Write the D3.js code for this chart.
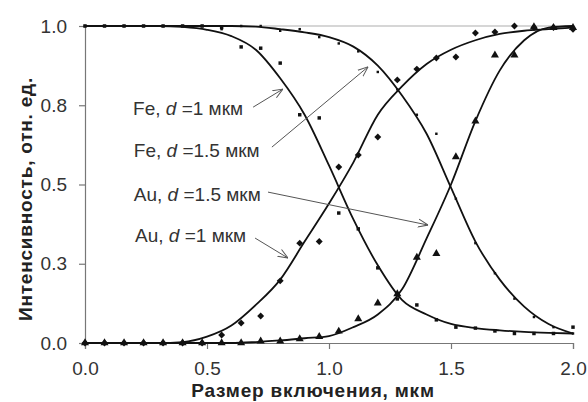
<!DOCTYPE html>
<html>
<head>
<meta charset="utf-8">
<script src="https://cdn.jsdelivr.net/npm/d3@7"></script>
<style>
	body { margin: 0; background: #fff; }
	text { font-family: "Liberation Sans", Arial, sans-serif; }
</style>
</head>
<body>
<svg id="chart" width="588" height="402"></svg>
<script>
// measured points, x step 0.08 um
let pointX = [0, 0.08, 0.16, 0.24, 0.32, 0.40, 0.48, 0.56, 0.64, 0.72, 0.80, 0.88, 0.96,
	1.04, 1.12, 1.20, 1.28, 1.36, 1.44, 1.52, 1.60, 1.68, 1.76, 1.84, 1.92, 2.00];
let feD1Points = [1, 1, 1, 1, 1, 1, 1, 0.995, 0.934, 0.93, 0.883, 0.72, 0.71,
	0.41, 0.36, 0.237, 0.139, 0.12, 0.073, 0.05, 0.047, 0.038, 0.03, 0.03, 0.03, 0.05];
let feD15Points = [1, 1, 1, 1, 1, 1, 1, 0.99, 1, 1, 0.985, 0.99, 0.965,
	0.945, 0.92, 0.855, 0.80, 0.72, 0.66, 0.455, 0.315, 0.22, 0.14, 0.082, 0.05, 0.03];
let auD1Points = [0, 0, 0, 0, 0, 0, 0, 0.025, 0.063, 0.085, 0.196, 0.315, 0.32,
	0.555, 0.593, 0.65, 0.83, 0.864, 0.899, 0.902, 0.978, 0.981, 1.0, 0.995, 0.995, 0.99];
let auD15Points = [0, 0, 0, 0, 0, 0, 0, 0, 0, 0.006, 0.006, 0.013, 0.02,
	0.037, 0.076, 0.126, 0.155, 0.27, 0.282, 0.587, 0.70, 0.908, 0.908, 0.997, 0.995, 0.995];

// fitted curves, x step 0.1 um
let curveX = [0, 0.1, 0.2, 0.3, 0.4, 0.5, 0.6, 0.7, 0.8, 0.9, 1.0,
	1.1, 1.2, 1.3, 1.4, 1.5, 1.6, 1.7, 1.8, 1.9, 2.0];
let feD1Curve = [1, 1, 1, 1, 0.997, 0.988, 0.968, 0.925, 0.835, 0.72, 0.56,
	0.39, 0.245, 0.135, 0.09, 0.06, 0.047, 0.04, 0.035, 0.032, 0.03];
let feD15Curve = [1, 1, 1, 1, 1, 1, 1, 0.998, 0.99, 0.98, 0.965,
	0.935, 0.875, 0.78, 0.66, 0.49, 0.32, 0.2, 0.115, 0.06, 0.03];
let auD1Curve = [0, 0, 0, 0, 0.003, 0.02, 0.055, 0.12, 0.2, 0.32, 0.44,
	0.57, 0.72, 0.81, 0.88, 0.925, 0.955, 0.975, 0.985, 0.99, 0.995];
let auD15Curve = [0, 0, 0, 0, 0, 0, 0, 0.003, 0.008, 0.015, 0.022,
	0.05, 0.09, 0.17, 0.33, 0.5, 0.7, 0.86, 0.955, 0.995, 1.0];

let xTicks = [0, 0.5, 1, 1.5, 2];
let xTickLabels = ["0.0", "0.5", "1.0", "1.5", "2.0"];
let yTicks = [0, 0.25, 0.5, 0.75, 1];
let yTickLabels = ["0.0", "0.3", "0.5", "0.8", "1.0"];

let xTitle = "Размер включения, мкм";
let yTitle = "Интенсивность, отн. ед.";

let labels = [
	{ element: "Fe", d: "1" },
	{ element: "Fe", d: "1.5" },
	{ element: "Au", d: "1.5" },
	{ element: "Au", d: "1" }
];


let svg = d3.select("#chart");
let margin = { top: 26, right: 15, bottom: 59, left: 85 };
let width = 588 - margin.left - margin.right;
let height = 402 - margin.top - margin.bottom;

let x = d3.scaleLinear().domain([0, 2]).range([margin.left, margin.left + width]);
let y = d3.scaleLinear().domain([0, 1]).range([margin.top + height, margin.top]);

// light frame line at the top
svg.append("line")
	.attr("x1", x(0)).attr("x2", x(2))
	.attr("y1", y(1)).attr("y2", y(1))
	.attr("stroke", "#c8c8c8")
	.attr("stroke-width", 1.5);

let xAxis = svg.append("g")
	.attr("transform", `translate(0,${y(0)})`)
	.call(d3.axisBottom(x).tickValues(xTicks).tickSize(6).tickPadding(13)
		.tickFormat((d, i) => xTickLabels[i]));
let yAxis = svg.append("g")
	.attr("transform", `translate(${x(0)},0)`)
	.call(d3.axisLeft(y).tickValues(yTicks).tickSize(6).tickPadding(12)
		.tickFormat((d, i) => yTickLabels[i]));

[xAxis, yAxis].forEach(axis => {
	axis.select(".domain").attr("stroke", "#777").attr("stroke-width", 1.2);
	axis.selectAll(".tick line").attr("stroke", "#777").attr("stroke-width", 1.2);
	axis.selectAll(".tick text")
		.attr("font-size", 19)
		.attr("fill", "#333")
		.style("font-family", "'Liberation Sans', Arial, sans-serif");
});

svg.append("text")
	.attr("x", 313)
	.attr("y", 397)
	.attr("text-anchor", "middle")
	.attr("font-size", 19)
	.attr("letter-spacing", 0.8)
	.attr("font-weight", "bold")
	.attr("fill", "#222")
	.text(xTitle);

svg.append("text")
	.attr("transform", "translate(32,199) rotate(-90)")
	.attr("text-anchor", "middle")
	.attr("font-size", 19)
	.attr("letter-spacing", 0.8)
	.attr("font-weight", "bold")
	.attr("fill", "#222")
	.text(yTitle);


// curves
let line = d3.line()
	.x((d, i) => x(curveX[i]))
	.y(d => y(d))
	.curve(d3.curveMonotoneX);

[feD1Curve, feD15Curve, auD1Curve, auD15Curve].forEach(values => {
	svg.append("path")
		.attr("d", line(values))
		.attr("fill", "none")
		.attr("stroke", "#111")
		.attr("stroke-width", 1.8);
});


// markers
function drawPoints(values, symbol, size, angle) {
	svg.append("g")
		.selectAll("path")
		.data(values)
		.join("path")
		.attr("transform", (d, i) => `translate(${x(pointX[i])},${y(d)}) rotate(${angle})`)
		.attr("d", d3.symbol().type(symbol).size(size))
		.attr("fill", "#111");
}

drawPoints(feD1Points, d3.symbolSquare, 12, 0);
drawPoints(feD15Points, d3.symbolSquare, 6, 0);
drawPoints(auD1Points, d3.symbolSquare, 24, 45);
drawPoints(auD15Points, d3.symbolTriangle, 28, 0);


// annotations
svg.append("defs")
	.append("marker")
	.attr("id", "arrow")
	.attr("viewBox", "0 0 10 10")
	.attr("refX", 10)
	.attr("refY", 5)
	.attr("markerWidth", 10)
	.attr("markerHeight", 10)
	.attr("markerUnits", "userSpaceOnUse")
	.attr("orient", "auto")
	.append("path")
	.attr("d", "M0,1 L10,5 L0,9")
	.attr("fill", "none")
	.attr("stroke", "#555")
	.attr("stroke-width", 1);

let labelPlaces = [
	{ tx: 0.197, ty: 0.719, from: [0.689, 0.744], to: [0.811, 0.801] },
	{ tx: 0.2, ty: 0.587, from: [0.766, 0.618], to: [1.16, 0.871] },
	{ tx: 0.2, ty: 0.448, from: [0.75, 0.476], to: [1.406, 0.372] },
	{ tx: 0.205, ty: 0.319, from: [0.697, 0.331], to: [0.832, 0.268] }
];

labels.forEach((label, i) => {
	let place = labelPlaces[i];
	let text = svg.append("text")
		.attr("x", x(place.tx))
		.attr("y", y(place.ty))
		.attr("font-size", 19)
		.attr("fill", "#333");
	text.append("tspan").text(label.element + ", ");
	text.append("tspan").attr("font-style", "italic").text("d");
	text.append("tspan").text(" =" + label.d + " мкм");

	svg.append("line")
		.attr("x1", x(place.from[0])).attr("y1", y(place.from[1]))
		.attr("x2", x(place.to[0])).attr("y2", y(place.to[1]))
		.attr("stroke", "#555")
		.attr("stroke-width", 1)
		.attr("marker-end", "url(#arrow)");
});
</script>
</body>
</html>
